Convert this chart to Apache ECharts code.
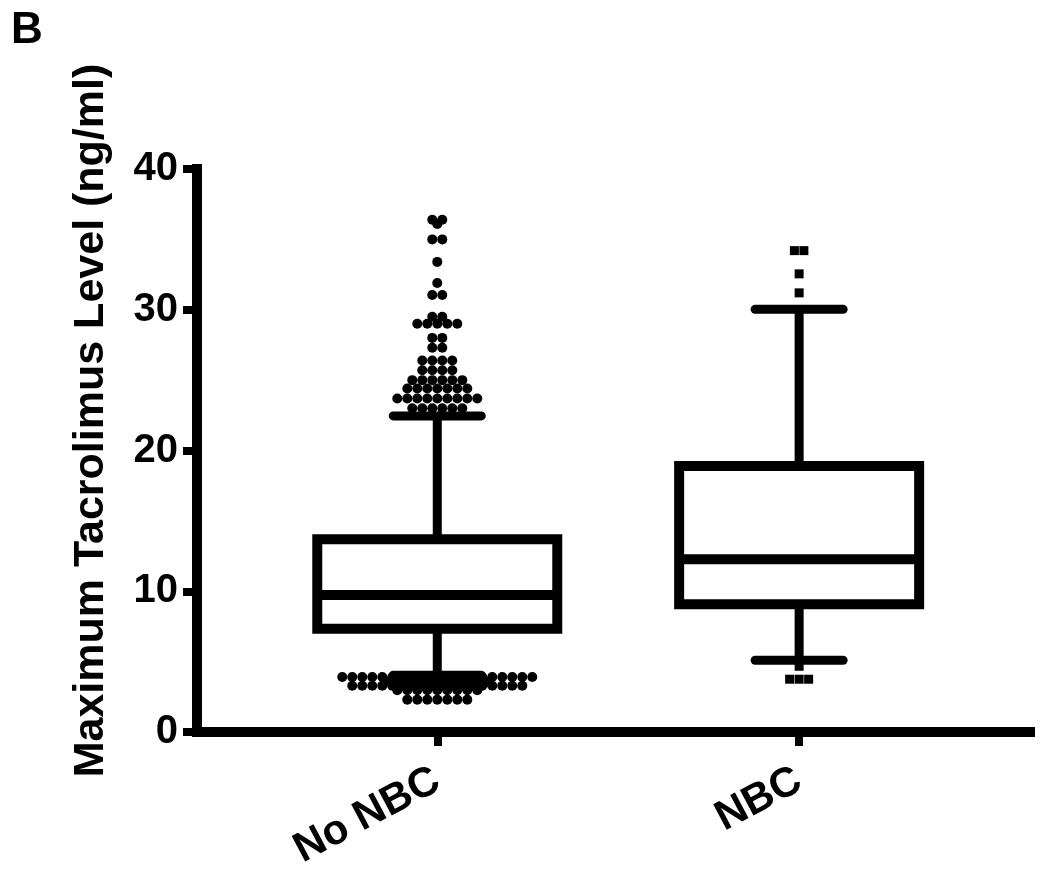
<!DOCTYPE html>
<html>
<head>
<meta charset="utf-8">
<script src="https://cdn.jsdelivr.net/npm/echarts@6.0.0/dist/echarts.min.js"></script>
<style>
  html, body { margin: 0; padding: 0; background: #fff; }
  #main { width: 1050px; height: 873px; }
</style>
</head>
<body>
<div id="main"></div>
<script>
// categories and box stats: [min whisker, Q1, median, Q3, max whisker]
var categories = ['No NBC', 'NBC'];
var boxStats = [
    [4.03, 7.33, 9.74, 13.7, 22.46],
    [5.1, 9.08, 12.28, 18.9, 30.03]
];
var yTicks = [0, 10, 20, 30, 40];

// outliers (values only; equal values are spread side by side like in prism)
var noNbcHigh = [36.4, 36.4, 36.1, 35.0, 35.0, 33.4, 31.9, 31.05, 31.05, 29.5, 29.5,
    29.0, 29.0, 29.0, 29.0, 29.0, 28.0, 28.0, 27.3, 27.3,
    26.4, 26.4, 26.4, 26.4, 25.7, 25.7, 25.7, 25.7,
    25.0, 25.0, 25.0, 25.0, 25.0, 25.0,
    24.4, 24.4, 24.4, 24.4, 24.4, 24.4, 24.4,
    23.7, 23.7, 23.7, 23.7, 23.7, 23.7, 23.7, 23.7, 23.7,
    23.0, 23.0, 23.0, 23.0, 23.0, 23.0];
var noNbcLow = [3.91, 3.91, 3.91, 3.91, 3.91, 3.91, 3.91, 3.91, 3.91, 3.91,
    3.91, 3.91, 3.91, 3.91, 3.91, 3.91, 3.91, 3.91, 3.91, 3.91,
    3.56, 3.56, 3.56, 3.56, 3.56, 3.56, 3.56, 3.56, 3.56, 3.56, 3.56,
    3.29, 3.29, 3.29, 3.29, 3.29, 3.29, 3.29, 3.29, 3.29,
    3.29, 3.29, 3.29, 3.29, 3.29, 3.29, 3.29, 3.29, 3.29,
    2.97, 2.97, 2.97, 2.97, 2.97, 2.97, 2.97, 2.97, 2.97,
    2.3, 2.3, 2.3, 2.3, 2.3, 2.3, 2.3];
var nbcHigh = [34.2, 34.2, 32.55, 31.2];
var nbcLow = [4.67, 3.75, 3.75, 3.75];

var chart = echarts.init(document.getElementById('main'));

function renderBox(params, api) {
    var cx = api.value(0);
    var pMin = api.coord([cx, api.value(1)]);
    var pQ1 = api.coord([cx, api.value(2)]);
    var pMed = api.coord([cx, api.value(3)]);
    var pQ3 = api.coord([cx, api.value(4)]);
    var pMax = api.coord([cx, api.value(5)]);
    var x = pMed[0];
    var half = 120, capHalf = 44;
    var line = {stroke: '#000', lineWidth: 9};
    var cap = {stroke: '#000', lineWidth: 9, lineCap: 'round'};
    return {
        type: 'group',
        children: [
            {type: 'line', shape: {x1: x, y1: pMin[1], x2: x, y2: pQ1[1]}, style: line},
            {type: 'line', shape: {x1: x, y1: pQ3[1], x2: x, y2: pMax[1]}, style: line},
            {type: 'line', shape: {x1: x - capHalf, y1: pMin[1], x2: x + capHalf, y2: pMin[1]}, style: cap},
            {type: 'line', shape: {x1: x - capHalf, y1: pMax[1], x2: x + capHalf, y2: pMax[1]}, style: cap},
            {type: 'rect', shape: {x: x - half, y: pQ3[1], width: half * 2, height: pQ1[1] - pQ3[1]},
                style: {fill: '#fff', stroke: '#000', lineWidth: 10}},
            {type: 'line', shape: {x1: x - half, y1: pMed[1], x2: x + half, y2: pMed[1]},
                style: {stroke: '#000', lineWidth: 10}}
        ]
    };
}

var labelFont = {color: '#000', fontWeight: 'bold', fontFamily: 'Liberation Sans'};

var option = {
    animation: false,
    backgroundColor: '#fff',
    title: {
        text: 'B', left: 6, top: 4,
        textStyle: {color: '#000', fontWeight: 'bold', fontSize: 44, fontFamily: 'Liberation Sans'}
    },
    grid: {left: 197, right: 20, top: 169, bottom: 141},
    xAxis: {
        type: 'value',
        min: -0.664,
        max: 1.638,
        splitLine: {show: false},
        axisLine: {onZero: false, lineStyle: {color: '#000', width: 10, cap: 'square'}},
        axisTick: {show: true, customValues: [0, 1], length: 14, lineStyle: {color: '#000', width: 8}},
        axisLabel: Object.assign({
            customValues: [0, 1],
            rotate: 28,
            margin: 46,
            fontSize: 42,
            formatter: function (v) { return categories[Math.round(v)]; }
        }, labelFont)
    },
    yAxis: {
        type: 'value',
        min: 0,
        max: 40,
        interval: 10,
        name: 'Maximum Tacrolimus Level (ng/ml)',
        nameLocation: 'middle',
        nameGap: 84,
        nameTextStyle: {color: '#000', fontWeight: 'bold', fontSize: 43, fontFamily: 'Liberation Sans',
            padding: [0, 0, 0, 60]},
        splitLine: {show: false},
        axisLine: {onZero: false, lineStyle: {color: '#000', width: 10, cap: 'square'}},
        axisTick: {length: 14, lineStyle: {color: '#000', width: 8}},
        axisLabel: Object.assign({
            margin: 19,
            fontSize: 40,
            formatter: function (v) { return yTicks.indexOf(v) >= 0 ? String(v) : ''; }
        }, labelFont)
    },
    series: [
        {
            type: 'scatter', name: 'No NBC outliers', symbol: 'circle', symbolSize: 10,
            itemStyle: {color: '#000', opacity: 1}, data: [], z: 3
        },
        {
            type: 'scatter', name: 'NBC outliers', symbol: 'rect', symbolSize: 9,
            itemStyle: {color: '#000', opacity: 1}, data: [], z: 3
        },
        {
            type: 'custom', name: 'box', renderItem: renderBox, clip: false, z: 4,
            encode: {x: 0, y: [1, 2, 3, 4, 5]},
            data: boxStats.map(function (s, i) { return [i].concat(s); })
        }
    ]
};
chart.setOption(option);

// equal values go in one centred row, spaced by the dot size (in pixels)
function rows(values, cat, gap) {
    var pxPerUnit = chart.convertToPixel({xAxisIndex: 0}, 1) - chart.convertToPixel({xAxisIndex: 0}, 0);
    var counts = {};
    values.forEach(function (v) { counts[v] = (counts[v] || 0) + 1; });
    var out = [];
    Object.keys(counts).forEach(function (k) {
        var n = counts[k];
        for (var i = 0; i < n; i++) {
            var off = (i - (n - 1) / 2) * gap;
            out.push([cat + off / pxPerUnit, Number(k)]);
        }
    });
    return out;
}

chart.setOption({
    series: [
        {data: rows(noNbcHigh, 0, 10).concat(rows(noNbcLow, 0, 10))},
        {data: rows(nbcHigh, 1, 9.5).concat(rows(nbcLow, 1, 9.5))}
    ]
});
</script>
</body>
</html>
